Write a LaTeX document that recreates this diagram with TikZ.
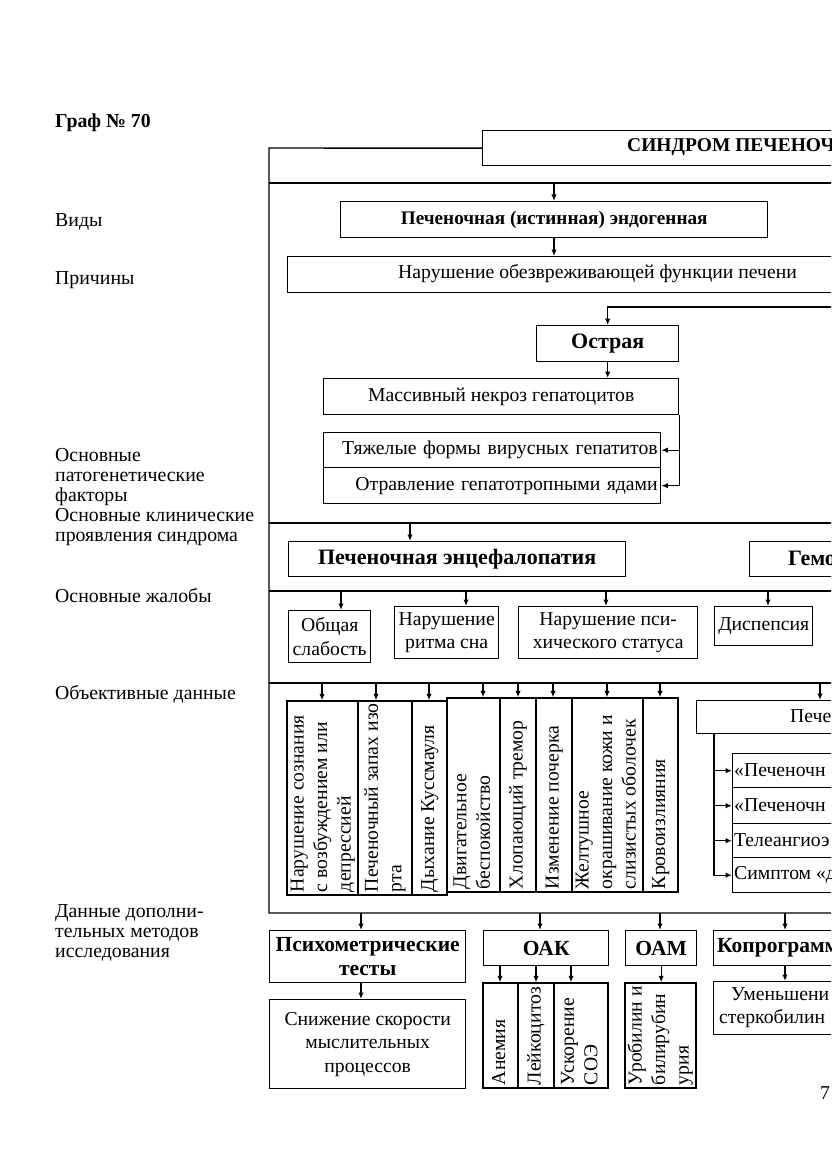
\documentclass[tikz,border=0pt]{standalone}
\usepackage{fontspec}
\setmainfont{Liberation Serif}
\usetikzlibrary{arrows.meta,calc}
\newcommand\rf{\fontsize{19.7}{23.5}\selectfont}
\newcommand\bfnt{\fontsize{19.5}{23.5}\selectfont\bfseries}
\newcommand\bfbig{\fontsize{21.5}{24}\selectfont\bfseries}
\newcommand\lfnt{\fontsize{19.8}{20}\selectfont}
% box by corners: [opts]{name}{x1}{y1}{x2}{y2}{text}
\newcommand\bxx[7][]{\node[box,anchor=north west,minimum width={(#5-#3)*1pt},minimum height={(#6-#4)*1pt},#1] (#2) at (#3,#4) {#7};}
% rotated column: [opts]{name}{x1}{y1}{x2}{y2}{textwidth}{text}
\newcommand\vcol[8][]{\node[bbase,rotate=90,minimum width={(#6-#4)*1pt},minimum height={(#5-#3)*1pt},#1] (#2) at ($(#3,#4)!0.5!(#5,#6)$) {\makebox[#7pt][l]{\begin{tabular}{@{}l@{}}#8\end{tabular}}};}
\begin{document}
\begin{tikzpicture}[x=1pt,y=-1pt,
  bbase/.style={draw,line width=1.4pt,inner sep=0pt,font=\rf},
  box/.style={bbase,align=center},
  ln/.style={line width=1.4pt},
  arr/.style={ln,-{Latex[length=6.5pt,width=5.5pt]}},
  lbl/.style={font=\lfnt,inner sep=0pt,align=left},
  ftxt/.style={anchor=west,inner sep=0pt,font=\rf}]
\fill[white] (0,0) rectangle (831,1174);
\path[use as bounding box] (0,0) rectangle (831,1174);
\clip (0,0) rectangle (831,1174);

% left labels
\node[lbl,anchor=west,font=\lfnt\bfseries] (title) at (55,123) {Граф № 70};
\node[lbl,anchor=west] (l1) at (55,222) {Виды};
\node[lbl,anchor=west] (l2) at (55,280) {Причины};
\node[lbl,anchor=north west] (l3) at (55,448) {Основные\\патогенетические\\факторы};
\node[lbl,anchor=north west] (l4) at (55,508) {Основные клинические\\проявления синдрома};
\node[lbl,anchor=west] (l5) at (55,596) {Основные жалобы};
\node[lbl,anchor=west] (l6) at (55,694) {Объективные данные};
\node[lbl,anchor=north west] (l7) at (55,904) {Данные дополни-\\тельных методов\\исследования};

% top
\bxx{synd}{482}{130}{860}{165}{}
\node[ftxt,font=\fontsize{19.5}{22}\selectfont\bfseries] (syndT) at (627,147.5) {СИНДРОМ ПЕЧЕНОЧ};
\draw[ln] (synd.west) -- (269,148) -- (269,913) -- (860,913);
\draw[ln] (269,183) -- (860,183);
\bxx[font=\fontsize{19.2}{22}\selectfont\bfseries]{vid}{340}{201}{767}{237}{Печеночная (истинная) эндогенная}
\coordinate (a0) at (554,183);
\draw[arr] (a0) -- (a0 |- vid.north);
\bxx{prich}{287}{256}{860}{292}{}
\node[ftxt] (prichT) at (398,274) {Нарушение обезвреживающей функции печени};
\draw[arr] (vid.south -| a0) -- (a0 |- prich.north);

\bxx[font=\fontsize{22}{24}\selectfont\bfseries]{ostr}{536}{325}{678}{361}{Острая}
\coordinate (a1) at (860,307);
\draw[arr] (a1) -- (ostr.north |- a1) -- (ostr.north);
\bxx{mass}{323}{378}{678}{414}{Массивный некроз гепатоцитов}
\draw[arr] (ostr.south) -- (ostr.south |- mass.north);
\bxx[text width=331pt,align=right]{tyazh}{323}{432}{660}{467}{Тяжелые формы вирусных гепатитов}
\bxx[text width=331pt,align=right]{otr}{323}{467}{660}{503}{Отравление гепатотропными ядами}
\draw[arr] (mass.south east) -- (mass.south east |- otr.east) -- (otr.east);
\draw[arr] (mass.south east |- tyazh.east) -- (tyazh.east);

% clinical
\draw[ln] (269,523) -- (860,523);
\bxx[font=\fontsize{22}{24}\selectfont\bfseries]{enc}{288}{541}{625}{576}{Печеночная энцефалопатия}
\coordinate (a2) at (410,523);
\draw[arr] (a2) -- (a2 |- enc.north);
\bxx{gemo}{749}{541}{860}{576}{}
\node[ftxt,font=\fontsize{22}{24}\selectfont\bfseries] (gemoT) at (788,558.5) {Гемо};

% complaints
\draw[ln] (269,591) -- (860,591);
\bxx{obsh}{288}{610}{370}{662}{Общая\\слабость}
\bxx{ritm}{394}{606}{498}{658}{Нарушение\\ритма сна}
\bxx{psi}{518}{606}{697}{658}{Нарушение пси-\\хического статуса}
\bxx{disp}{714}{606}{812}{645}{Диспепсия}
\foreach \x/\n in {341/obsh,466/ritm,606/psi,768/disp}{
  \coordinate (b) at (\x,591);
  \draw[arr] (b) -- (b |- \n.north);}

% objective
\draw[ln] (269,683) -- (860,683);
\vcol{c1}{287}{701}{358}{895}{188}{Нарушение сознания\\с возбуждением или\\депрессией}
\vcol{c2}{358}{701}{412}{895}{188}{Печеночный запах изо\\рта}
\vcol{c3}{412}{701}{447}{895}{188}{Дыхание Куссмауля}
\vcol{c4}{447}{698}{500}{892}{188}{Двигательное\\беспокойство}
\vcol{c5}{500}{698}{536}{892}{188}{Хлопающий тремор}
\vcol{c6}{536}{698}{572}{892}{188}{Изменение почерка}
\vcol{c7}{572}{698}{643}{892}{188}{Желтушное\\окрашивание кожи и\\слизистых оболочек}
\vcol{c8}{643}{698}{678}{892}{188}{Кровоизлияния}
\bxx{pech}{696}{700}{860}{733}{}
\node[ftxt] (pechT) at (790,716.5) {Пече};
\foreach \x/\n in {322/c1.east,376/c2.east,429/c3.east,483/c4.east,518/c5.east,553/c6.east,607/c7.east,660/c8.east,820/pech.north}{
  \coordinate (b) at (\x,683);
  \draw[arr] (b) -- (b |- \n);}
\bxx{p1}{732}{753}{860}{787}{}
\bxx{p2}{732}{787}{860}{823}{}
\bxx{p3}{732}{823}{860}{857}{}
\bxx{p4}{732}{857}{860}{892}{}
\node[ftxt] (p1T) at (734,770) {«Печеночн};
\node[ftxt] (p2T) at (734,805) {«Печеночн};
\node[ftxt] (p3T) at (734,840) {Телеангиоэ};
\node[ftxt] (p4T) at (734,874.5) {Симптом «д};
\coordinate (pv) at (714,733);
\draw[arr] (pv) -- (pv |- p4.west) -- (p4.west);
\foreach \n in {p1,p2,p3}{\draw[arr] (pv |- \n.west) -- (\n.west);}

% additional methods
\bxx[font=\bfbig]{psy}{269}{930}{465}{982}{Психометрические\\тесты}
\bxx{snizh}{269}{999}{465}{1088}{Снижение скорости\\мыслительных\\процессов}
\bxx[font=\bfbig]{oak}{483}{930}{608}{965}{ОАК}
\vcol{k1}{483}{983}{518}{1088}{99}{Анемия}
\vcol{k2}{518}{983}{554}{1088}{99}{Лейкоцитоз}
\vcol{k3}{554}{983}{608}{1088}{99}{Ускорение\\СОЭ}
\bxx[font=\bfbig]{oam}{625}{930}{696}{965}{ОАМ}
\vcol{u1}{625}{983}{696}{1088}{99}{Уробилин и\\билирубин\\урия}
\bxx{kopr}{713}{930}{860}{965}{}
\node[ftxt,font=\bfbig] (koprT) at (717,947.5) {Копрограмм};
\bxx{umen}{713}{981}{860}{1034}{}
\node[anchor=north west,inner sep=0pt,align=left,font=\rf] (umenT) at (719,987) {\hspace*{12pt}Уменьшени\\стеркобилин};
\foreach \x/\n in {361/psy,540/oak,660/oam,785/kopr}{
  \coordinate (b) at (\x,913);
  \draw[arr] (b) -- (b |- \n.north);}
\coordinate (d1) at (361,982);
\draw[arr] (d1) -- (d1 |- snizh.north);
\foreach \x/\n in {500/k1,536/k2,571/k3}{
  \coordinate (b) at (\x,965);
  \draw[arr] (b) -- (b |- \n.east);}
\draw[arr] (oam.south) -- (oam.south |- u1.east);
\coordinate (d2) at (785,965);
\draw[arr] (d2) -- (d2 |- umen.north);

\node[ftxt] (pg) at (820,1093) {7};
\end{tikzpicture}
\end{document}
